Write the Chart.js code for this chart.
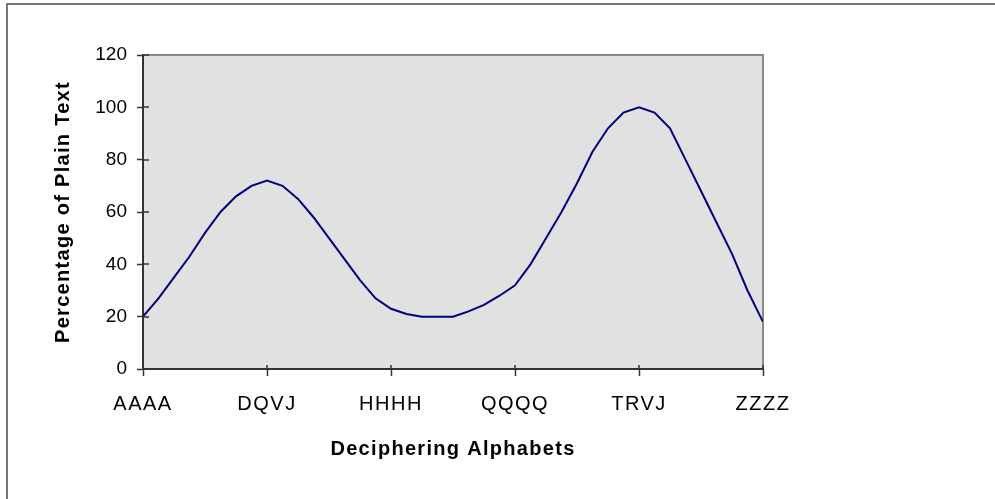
<!DOCTYPE html>
<html lang="en">
<head>
    <meta charset="UTF-8">
    <title>Deciphering Alphabets</title>
    <script src="https://cdn.jsdelivr.net/npm/chart.js"></script>
    <style>
        body { margin: 0; background: #ffffff; }
        #chart { display: block; }
    </style>
</head>
<body>
    <canvas id="chart" width="995" height="499"></canvas>

    <script>
        // tick labels along the bottom (one every 8 points)
        const alphabetLabels = ['AAAA', 'DQVJ', 'HHHH', 'QQQQ', 'TRVJ', 'ZZZZ'];
        const pointsPerLabel = 8;

        // percentage of plain text
        const plainTextPct = [
            20, 27, 35, 43, 52, 60, 66, 70, 72,
            70, 65, 58, 50, 42, 34, 27, 23,
            21, 20, 20, 20, 22, 24.5, 28, 32,
            40, 50, 60, 71, 83, 92, 98, 100,
            98, 92, 80, 68, 56, 44, 30, 18
        ];

        const yTicks = [0, 20, 40, 60, 80, 100, 120];

        const points = plainTextPct.map((v, i) => ({ x: i, y: v }));
        const lastX = (alphabetLabels.length - 1) * pointsPerLabel;
        const FONT = 'Liberation Sans, Arial, sans-serif';

        // the original text is drawn a bit wider than Arial, add some letter spacing per scale
        function spaceText(scale, labelSpacing, titleSpacing) {
            if (scale._spaced) return;
            scale._spaced = true;
            const drawLabels = scale.drawLabels.bind(scale);
            const drawTitle = scale.drawTitle.bind(scale);
            scale.drawLabels = (area) => {
                scale.ctx.letterSpacing = labelSpacing;
                drawLabels(area);
                scale.ctx.letterSpacing = '0px';
            };
            scale.drawTitle = () => {
                scale.ctx.letterSpacing = titleSpacing;
                drawTitle();
                scale.ctx.letterSpacing = '0px';
            };
        }

        // grey plot area, its top/right edges and the outer frame
        const framePlugin = {
            id: 'frame',
            beforeDraw(chart) {
                const ctx = chart.ctx;
                const a = chart.chartArea;
                ctx.save();
                ctx.fillStyle = '#ffffff';
                ctx.fillRect(0, 0, chart.width, chart.height);
                ctx.strokeStyle = '#777777';
                ctx.lineWidth = 2;
                ctx.strokeRect(7, 4, 2000, 2000);
                ctx.fillStyle = '#e1e1e1';
                ctx.fillRect(a.left, a.top, a.right - a.left, a.bottom - a.top);
                ctx.strokeStyle = '#8a8a8a';
                ctx.beginPath();
                ctx.moveTo(a.left, a.top);
                ctx.lineTo(a.right, a.top);
                ctx.lineTo(a.right, a.bottom);
                ctx.stroke();
                ctx.restore();
            },
            // tick marks cross the axis lines a little, as in the original
            afterDraw(chart) {
                const ctx = chart.ctx;
                const a = chart.chartArea;
                const xs = chart.scales.x, ys = chart.scales.y;
                ctx.save();
                ctx.strokeStyle = '#333333';
                ctx.lineWidth = 1.5;
                ctx.beginPath();
                xs.ticks.forEach(t => {
                    const px = Math.round(xs.getPixelForValue(t.value));
                    ctx.moveTo(px, a.bottom);
                    ctx.lineTo(px, a.bottom - 4);
                });
                ys.ticks.forEach(t => {
                    const py = Math.round(ys.getPixelForValue(t.value));
                    ctx.moveTo(a.left, py);
                    ctx.lineTo(a.left + 6, py);
                });
                ctx.stroke();
                ctx.restore();
            }
        };

        new Chart(document.getElementById('chart'), {
            type: 'line',
            data: {
                datasets: [{
                    data: points,
                    borderColor: '#000080',
                    borderWidth: 2,
                    pointRadius: 0,
                    tension: 0,
                    fill: false
                }]
            },
            options: {
                responsive: false,
                animation: false,
                layout: { padding: { top: 55, right: 232, left: 0, bottom: 0 } },
                plugins: { legend: { display: false }, tooltip: { enabled: false } },
                scales: {
                    x: {
                        type: 'linear',
                        min: 0,
                        max: lastX,
                        afterFit(scale) { scale.height = 130; },
                        afterUpdate(scale) { spaceText(scale, '1.5px', '1.3px'); },
                        afterBuildTicks(scale) {
                            scale.ticks = alphabetLabels.map((_, i) => ({ value: i * pointsPerLabel }));
                        },
                        ticks: {
                            color: '#000000',
                            padding: 16,
                            maxRotation: 0,
                            font: { family: FONT, size: 20 },
                            callback: (v) => alphabetLabels[v / pointsPerLabel]
                        },
                        grid: {
                            drawOnChartArea: false,
                            tickLength: 7,
                            tickColor: '#333333',
                            tickWidth: 1.5
                        },
                        border: { color: '#333333', width: 2 },
                        title: {
                            display: true,
                            text: 'Deciphering Alphabets',
                            color: '#000000',
                            padding: { bottom: 38 },
                            font: { family: FONT, size: 20, weight: 'bold' }
                        }
                    },
                    y: {
                        min: 0,
                        max: 120,
                        afterFit(scale) { scale.width = 143; },
                        afterUpdate(scale) { spaceText(scale, '0px', '1.3px'); },
                        afterBuildTicks(scale) {
                            scale.ticks = yTicks.map(v => ({ value: v }));
                        },
                        ticks: {
                            color: '#000000',
                            padding: 10,
                            font: { family: FONT, size: 19 }
                        },
                        grid: {
                            drawOnChartArea: false,
                            tickLength: 6,
                            tickColor: '#333333',
                            tickWidth: 1.5
                        },
                        border: { color: '#333333', width: 2 },
                        title: {
                            display: true,
                            text: 'Percentage of Plain Text',
                            color: '#000000',
                            padding: { top: 51 },
                            font: { family: FONT, size: 20, weight: 'bold' }
                        }
                    }
                }
            },
            plugins: [framePlugin]
        });
    </script>
</body>
</html>
